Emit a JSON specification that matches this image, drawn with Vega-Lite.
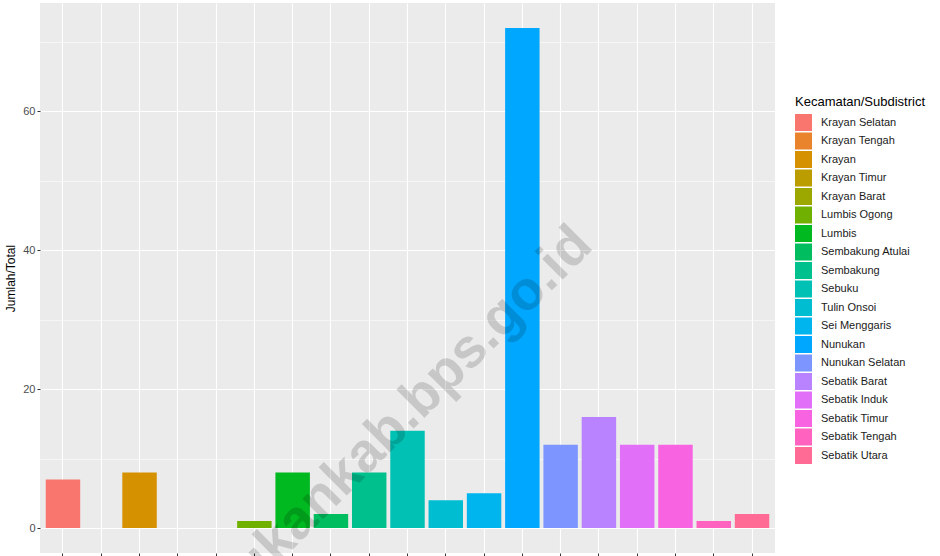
{
  "$schema": "https://vega.github.io/schema/vega-lite/v6.json",
  "width": 735,
  "height": 550,
  "autosize": "none",
  "padding": {"left": 40, "top": 3, "right": 165, "bottom": 3},
  "background": "white",
  "config": {
    "font": "Liberation Sans",
    "view": {"fill": "#EBEBEB", "stroke": null}
  },
  "data": {
    "values": [
      {"Kecamatan": "Krayan Selatan", "Jumlah": 7},
      {"Kecamatan": "Krayan Tengah", "Jumlah": 0},
      {"Kecamatan": "Krayan", "Jumlah": 8},
      {"Kecamatan": "Krayan Timur", "Jumlah": 0},
      {"Kecamatan": "Krayan Barat", "Jumlah": 0},
      {"Kecamatan": "Lumbis Ogong", "Jumlah": 1},
      {"Kecamatan": "Lumbis", "Jumlah": 8},
      {"Kecamatan": "Sembakung Atulai", "Jumlah": 2},
      {"Kecamatan": "Sembakung", "Jumlah": 8},
      {"Kecamatan": "Sebuku", "Jumlah": 14},
      {"Kecamatan": "Tulin Onsoi", "Jumlah": 4},
      {"Kecamatan": "Sei Menggaris", "Jumlah": 5},
      {"Kecamatan": "Nunukan", "Jumlah": 72},
      {"Kecamatan": "Nunukan Selatan", "Jumlah": 12},
      {"Kecamatan": "Sebatik Barat", "Jumlah": 16},
      {"Kecamatan": "Sebatik Induk", "Jumlah": 12},
      {"Kecamatan": "Sebatik Timur", "Jumlah": 12},
      {"Kecamatan": "Sebatik Tengah", "Jumlah": 1},
      {"Kecamatan": "Sebatik Utara", "Jumlah": 2}
    ]
  },
  "layer": [
    {
      "mark": {"type": "bar"},
      "encoding": {
        "x": {
          "field": "Kecamatan",
          "type": "nominal",
          "sort": null,
          "scale": {
            "domain": ["Krayan Selatan", "Krayan Tengah", "Krayan", "Krayan Timur", "Krayan Barat", "Lumbis Ogong", "Lumbis", "Sembakung Atulai", "Sembakung", "Sebuku", "Tulin Onsoi", "Sei Menggaris", "Nunukan", "Nunukan Selatan", "Sebatik Barat", "Sebatik Induk", "Sebatik Timur", "Sebatik Tengah", "Sebatik Utara"],
            "paddingInner": 0.1,
            "paddingOuter": 0.15
          },
          "axis": {
            "title": null,
            "labels": false,
            "domain": false,
            "ticks": true,
            "tickSize": 3,
            "tickColor": "#333333",
            "grid": true,
            "gridColor": "#FFFFFF",
            "gridWidth": 1.1,
            "bandPosition": 0.5
          }
        },
        "y": {
          "field": "Jumlah",
          "type": "quantitative",
          "scale": {"domain": [-3.6, 75.6], "nice": false, "zero": false},
          "axis": {
            "title": "Jumlah/Total",
            "titleFontSize": 12,
            "titleFontWeight": "normal",
            "titleColor": "#000000",
            "titlePadding": 5,
            "values": [0, 20, 40, 60],
            "domain": false,
            "grid": true,
            "gridColor": "#FFFFFF",
            "gridWidth": 1.1,
            "tickSize": 3,
            "tickColor": "#333333",
            "labelColor": "#4D4D4D",
            "labelFontSize": 11,
            "labelPadding": 2
          }
        },
        "y2": {"datum": 0},
        "color": {
          "field": "Kecamatan",
          "type": "nominal",
          "sort": null,
          "scale": {
            "domain": ["Krayan Selatan", "Krayan Tengah", "Krayan", "Krayan Timur", "Krayan Barat", "Lumbis Ogong", "Lumbis", "Sembakung Atulai", "Sembakung", "Sebuku", "Tulin Onsoi", "Sei Menggaris", "Nunukan", "Nunukan Selatan", "Sebatik Barat", "Sebatik Induk", "Sebatik Timur", "Sebatik Tengah", "Sebatik Utara"],
            "range": ["#F8766D", "#E9842C", "#D69100", "#BC9D00", "#9CA700", "#6FB000", "#00B81F", "#00BD5F", "#00C08E", "#00C1B3", "#00BDD2", "#00B5EE", "#00A7FF", "#7D96FF", "#B983FF", "#E16FF7", "#F763E0", "#FF62BF", "#FF6B94"]
          },
          "legend": {
            "title": "Kecamatan/Subdistrict",
            "orient": "none",
            "legendX": 755,
            "legendY": 93,
            "titleFontSize": 13,
            "titleFontWeight": "normal",
            "titleColor": "#000000",
            "titlePadding": 5,
            "labelFontSize": 11,
            "labelColor": "#1A1A1A",
            "labelOffset": 9,
            "symbolType": "square",
            "symbolSize": 289,
            "symbolStrokeWidth": 0,
            "symbolOpacity": 1,
            "rowPadding": 1.5
          }
        }
      }
    },
    {
      "data": {"values": [{"watermark": "nunukankab.bps.go.id"}]},
      "mark": {
        "type": "text",
        "font": "Liberation Sans",
        "fontWeight": "bold",
        "fontSize": 55,
        "angle": 315,
        "align": "center",
        "baseline": "middle",
        "color": "#000000",
        "opacity": 0.15,
        "dx": 5,
        "dy": 5
      },
      "encoding": {
        "text": {"field": "watermark", "type": "nominal"},
        "x": {"datum": "Sembakung", "type": "nominal"},
        "y": {
          "datum": 12.4,
          "type": "quantitative",
          "axis": {
            "title": null,
            "values": [10, 30, 50, 70],
            "labels": false,
            "ticks": false,
            "domain": false,
            "grid": true,
            "gridColor": "#FFFFFF",
            "gridWidth": 0.55
          }
        }
      }
    }
  ],
  "resolve": {"axis": {"y": "independent"}}
}
